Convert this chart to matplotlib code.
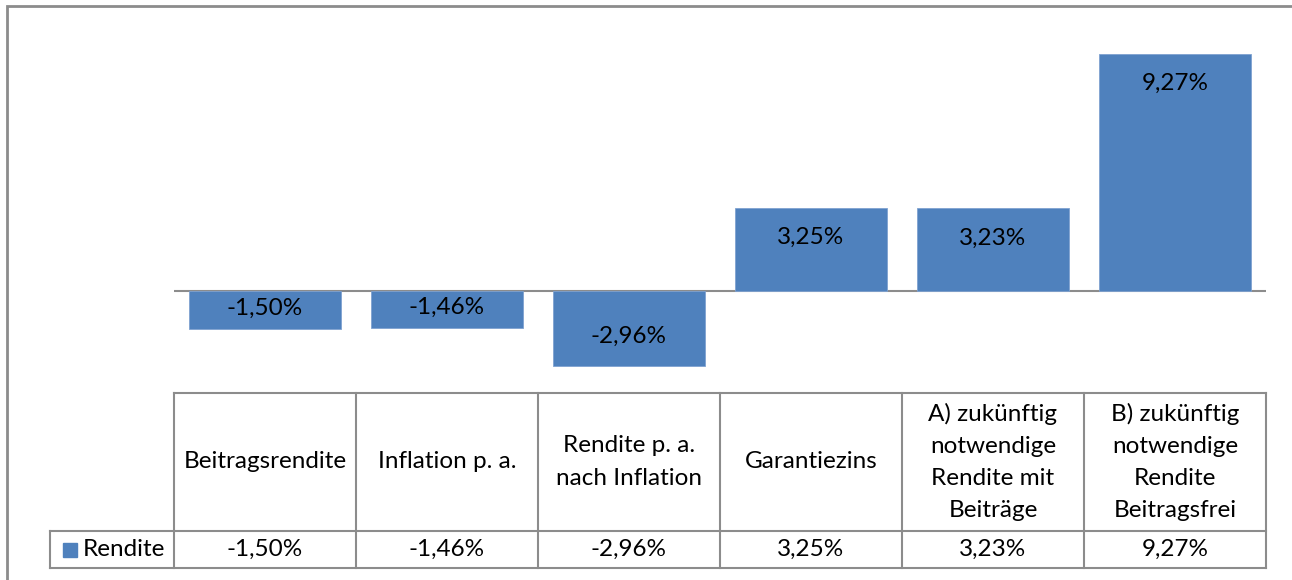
import matplotlib.pyplot as plt
from matplotlib.patches import Rectangle
from matplotlib.transforms import blended_transform_factory

plt.rcParams['font.family'] = ['Lato', 'DejaVu Sans']

kategorien = ['Beitragsrendite', 'Inflation p. a.', 'Rendite p. a.\nnach Inflation',
              'Garantiezins', 'A) zukünftig\nnotwendige\nRendite mit\nBeiträge',
              'B) zukünftig\nnotwendige\nRendite\nBeitragsfrei']
rendite = [-1.50, -1.46, -2.96, 3.25, 3.23, 9.27]
serie = 'Rendite'

blau = '#4F81BD'
grau = '#8C8C8C'
fs = 17.5

def fmt(v):
    return f'{v:.2f}%'.replace('.', ',')

fig = plt.figure(figsize=(12.92, 5.80), dpi=100)
W, H = 1292, 580

# outer chart border
fig.patches.append(Rectangle((7 / W, -0.1), 1.2, 1 - 6 / H + 0.1, transform=fig.transFigure,
                             fill=False, edgecolor=grau, lw=2))

ax = fig.add_axes([174 / W, 1 - 393 / H, (1266 - 174) / W, (393 - 35) / H])
x = range(len(rendite))
ax.bar(x, rendite, width=0.835, color=blau, edgecolor='#7FA2D0', lw=0.6, zorder=2)
ax.set_xlim(-0.5, len(rendite) - 0.5)
ax.set_ylim(-4, 10)
ax.axhline(0, color=grau, lw=1.5, zorder=1)
ax.axis('off')

# data labels (inside end)
px = (393 - 35) / 14.0
for i, v in enumerate(rendite):
    h = abs(v) * px
    sgn = 1 if v > 0 else -1
    off = min(30, h / 2 - 2 * sgn)
    ax.annotate(fmt(v), (i, v), xytext=(0, -sgn * off * 0.72), textcoords='offset points',
                ha='center', va='center', fontsize=fs, color='black', zorder=3)

# data table below the axis
tr = blended_transform_factory(ax.transData, ax.transAxes)
axh = 393 - 35
y_top = 0
y_mid = -(531 - 393) / axh
y_bot = -(568 - 393) / axh
n = len(rendite)
lx = -0.5 - (174 - 50) / ((1266 - 174) / n)

kw = dict(color=grau, lw=1.5, transform=tr, clip_on=False)
ax.plot([-0.5, n - 0.5], [y_top, y_top], **kw)
ax.plot([lx, n - 0.5], [y_mid, y_mid], **kw)
ax.plot([lx, n - 0.5], [y_bot, y_bot], **kw)
ax.plot([lx, lx], [y_mid, y_bot], **kw)
for k in range(n + 1):
    ax.plot([k - 0.5, k - 0.5], [y_top, y_bot], **kw)

for i, (lab, v) in enumerate(zip(kategorien, rendite)):
    ax.text(i, (y_top + y_mid) / 2, lab, transform=tr, ha='center', va='center',
            fontsize=fs, linespacing=1.65, clip_on=False)
    ax.text(i, (y_mid + y_bot) / 2, fmt(v), transform=tr, ha='center', va='center',
            fontsize=fs, clip_on=False)

# legend key in row label cell
fig.patches.append(Rectangle((63 / W, 1 - 557 / H), 14 / W, 14 / H,
                             transform=fig.transFigure, color=blau))
fig.text(83 / W, 1 - 550 / H, serie, ha='left', va='center', fontsize=fs)

fig.savefig('out.png', dpi=100)
